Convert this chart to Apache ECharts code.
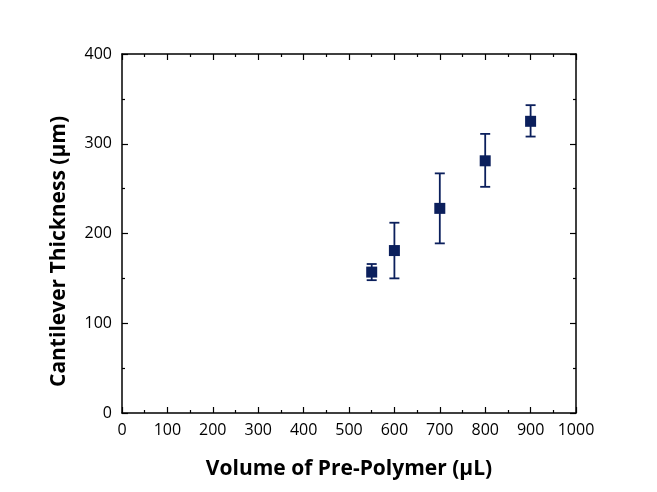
<!DOCTYPE html>
<html><head><meta charset="utf-8">
<script src="https://cdn.jsdelivr.net/npm/echarts@6/dist/echarts.min.js"></script>
<style>html,body{margin:0;padding:0;background:#fff}#c{width:657px;height:492px}</style>
</head><body><div id="c"></div>
<script>
var volumes = [550, 600, 700, 800, 900];
var thickness = [157, 181, 228, 281, 325];
var errUpper = [166, 212, 267, 311, 343];
var errLower = [148, 150, 189, 252, 308];
var xTitle = 'Volume of Pre-Polymer (\u03bcL)';
var yTitle = 'Cantilever Thickness (\u03bcm)';

var font = '"Open Sans", "Noto Sans", sans-serif';
var navy = '#0b1f5c';
var chart = echarts.init(document.getElementById('c'));
function baseAxis(extra) {
  var a = {
    axisLine: {show: true, onZero: false, lineStyle: {color: '#000', width: 1.5}},
    axisTick: {show: true, inside: true, length: 6, lineStyle: {color: '#000', width: 1.2}},
    minorTick: {show: true, splitNumber: 2, length: 3, lineStyle: {color: '#000', width: 1.2}},
    splitLine: {show: false},
    axisLabel: {show: true, color: '#000', fontFamily: font, fontSize: 16}
  };
  for (var k in extra) a[k] = extra[k];
  return a;
}
var fmt = function (v) { return String(v); };
var errData = volumes.map(function (v, i) { return [v, errLower[i], errUpper[i]]; });
var ptData = volumes.map(function (v, i) { return [v, thickness[i]]; });
chart.setOption({
  animation: false,
  grid: {left: 122, right: 81, top: 54, bottom: 79},
  xAxis: [
    baseAxis({type: 'value', min: 0, max: 1000, interval: 100, position: 'bottom',
      name: xTitle, nameLocation: 'middle', nameGap: 46,
      nameTextStyle: {fontFamily: font, fontSize: 21, fontWeight: 'bold', color: '#000'},
      axisLabel: {color: '#000', fontFamily: font, fontSize: 16, margin: 9, formatter: fmt}}),
    baseAxis({type: 'value', min: 0, max: 1000, interval: 100, position: 'top',
      axisLabel: {show: false}})
  ],
  yAxis: [
    baseAxis({type: 'value', min: 0, max: 400, interval: 100, position: 'left',
      name: yTitle, nameLocation: 'middle', nameGap: 52,
      nameTextStyle: {fontFamily: font, fontSize: 21, fontWeight: 'bold', color: '#000',
        padding: [0, 36, 0, 0]},
      axisLabel: {color: '#000', fontFamily: font, fontSize: 16, margin: 10, formatter: fmt}}),
    baseAxis({type: 'value', min: 0, max: 400, interval: 100, position: 'right',
      axisLabel: {show: false}})
  ],
  series: [
    {
      type: 'custom',
      xAxisIndex: 0, yAxisIndex: 0,
      data: errData,
      renderItem: function (params, api) {
        var x = api.value(0);
        var lo = api.coord([x, api.value(1)]);
        var hi = api.coord([x, api.value(2)]);
        var hw = 5;
        var st = {stroke: navy, lineWidth: 1.8, fill: null};
        return {type: 'group', children: [
          {type: 'line', shape: {x1: lo[0], y1: lo[1], x2: hi[0], y2: hi[1]}, style: st},
          {type: 'line', shape: {x1: lo[0] - hw, y1: lo[1], x2: lo[0] + hw, y2: lo[1]}, style: st},
          {type: 'line', shape: {x1: hi[0] - hw, y1: hi[1], x2: hi[0] + hw, y2: hi[1]}, style: st}
        ]};
      },
      z: 2
    },
    {
      type: 'scatter',
      xAxisIndex: 0, yAxisIndex: 0,
      data: ptData,
      symbol: 'rect',
      symbolSize: 11,
      itemStyle: {color: navy, opacity: 1},
      z: 3
    }
  ]
});
</script>
</body></html>
